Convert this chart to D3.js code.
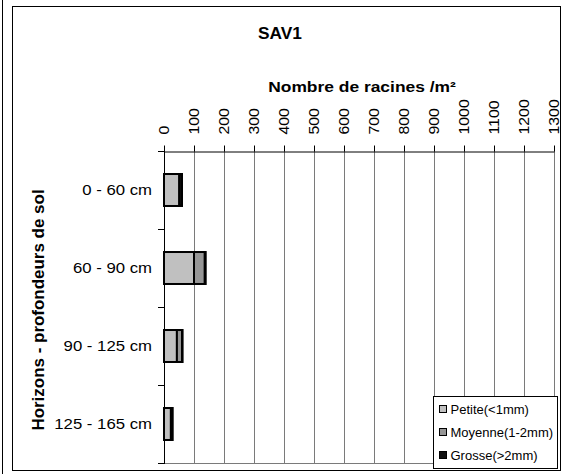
<!DOCTYPE html>
<html>
<head>
<meta charset="utf-8">
<script src="https://cdn.jsdelivr.net/npm/d3@7"></script>
<style>
  html, body { margin: 0; padding: 0; background: #fff; }
  svg { display: block; font-family: "Liberation Sans", Arial, sans-serif; }
</style>
</head>
<body>
<svg id="chart" width="563" height="474"></svg>
<script>
// Root counts per soil horizon, split by root diameter class
const horizons = ["0 - 60 cm", "60 - 90 cm", "90 - 125 cm", "125 - 165 cm"];
const petite  = [51, 100, 43, 23];
const moyenne = [0, 36, 17, 0];
const grosse  = [9, 3, 2, 6];
const seriesNames = ["Petite(<1mm)", "Moyenne(1-2mm)", "Grosse(>2mm)"];
const seriesColors = ["#c0c0c0", "#969696", "#111111"];
const xTicks = [0, 100, 200, 300, 400, 500, 600, 700, 800, 900, 1000, 1100, 1200, 1300];

const svg = d3.select("#chart");

// widen glyphs along the reading direction
function stretch(sel, factor) {
  sel.each(function () {
    const len = this.getComputedTextLength();
    d3.select(this).attr("textLength", len * factor).attr("lengthAdjust", "spacingAndGlyphs");
  });
}

// outer frames
svg.append("line").attr("x1", 2.5).attr("x2", 2.5).attr("y1", 0).attr("y2", 474)
  .attr("stroke", "#000").attr("stroke-width", 1);
svg.append("rect").attr("x", 12.5).attr("y", 6.5).attr("width", 548).attr("height", 464)
  .attr("fill", "#fff").attr("stroke", "#000").attr("stroke-width", 1);

const plot = { left: 164, right: 554, top: 151, bottom: 463 };

const x = d3.scaleLinear().domain([0, 1300]).range([plot.left, plot.right]);
const y = d3.scaleBand().domain(horizons).range([plot.top, plot.bottom])
  .paddingInner(0.59).paddingOuter(0.295);

// vertical gridlines
svg.append("g").selectAll("line").data(xTicks.slice(1)).join("line")
  .attr("x1", d => Math.round(x(d)) + 0.5).attr("x2", d => Math.round(x(d)) + 0.5)
  .attr("y1", plot.top).attr("y2", plot.bottom)
  .attr("stroke", "#7a7a7a").attr("stroke-width", 1);

// plot bottom edge
svg.append("line").attr("x1", plot.left).attr("x2", plot.right + 1)
  .attr("y1", plot.bottom + 0.5).attr("y2", plot.bottom + 0.5)
  .attr("stroke", "#7a7a7a").attr("stroke-width", 1);

// stacked bars
const stackData = horizons.map((h, i) => ({ h, Petite: petite[i], Moyenne: moyenne[i], Grosse: grosse[i] }));
const stack = d3.stack().keys(["Petite", "Moyenne", "Grosse"])(stackData);
svg.append("g").selectAll("g").data(stack).join("g")
  .attr("fill", (d, i) => seriesColors[i])
  .selectAll("rect").data(d => d.filter(s => s[1] - s[0] > 0)).join("rect")
  .attr("x", d => x(d[0]))
  .attr("width", d => x(d[1]) - x(d[0]))
  .attr("y", d => y(d.data.h))
  .attr("height", y.bandwidth())
  .attr("stroke", "#000").attr("stroke-width", 2);

// top value axis
const xAxis = d3.axisTop(x).tickValues(xTicks).tickSize(6).tickSizeOuter(0).tickFormat(d3.format("d"));
const gx = svg.append("g").attr("transform", `translate(0,${plot.top + 0.5})`).call(xAxis);
gx.select(".domain").attr("stroke", "#000");
gx.selectAll(".tick line").attr("stroke", "#000");
gx.selectAll(".tick text")
  .attr("font-size", 14).attr("fill", "#000")
  .attr("transform", "rotate(-90)")
  .attr("text-anchor", "start")
  .attr("x", 17).attr("y", 0).attr("dy", "0.35em")
  .call(stretch, 1.13);

// left category axis with ticks between categories
svg.append("line").attr("x1", plot.left + 0.5).attr("x2", plot.left + 0.5)
  .attr("y1", plot.top).attr("y2", plot.bottom + 1)
  .attr("stroke", "#000").attr("stroke-width", 1);
const step = y.step();
svg.append("g").selectAll("line").data(d3.range(horizons.length + 1)).join("line")
  .attr("x1", plot.left - 6).attr("x2", plot.left)
  .attr("y1", i => Math.round(plot.top + i * step) + 0.5)
  .attr("y2", i => Math.round(plot.top + i * step) + 0.5)
  .attr("stroke", "#000");
svg.append("g").selectAll("text").data(horizons).join("text")
  .attr("x", plot.left - 12)
  .attr("y", d => y(d) + y.bandwidth() / 2)
  .attr("dy", "0.35em")
  .attr("text-anchor", "end")
  .attr("font-size", 15.5)
  .text(d => d)
  .call(stretch, 1.08);

// titles
svg.append("text").attr("x", 280).attr("y", 39).attr("text-anchor", "middle")
  .attr("font-size", 16).attr("font-weight", "bold").text("SAV1")
  .call(stretch, 1.08);
svg.append("text").attr("x", 362).attr("y", 92).attr("text-anchor", "middle")
  .attr("font-size", 15).attr("font-weight", "bold").text("Nombre de racines /m²")
  .call(stretch, 1.16);
svg.append("text").attr("transform", "translate(44,310) rotate(-90)")
  .attr("text-anchor", "middle").attr("font-size", 16).attr("font-weight", "bold")
  .text("Horizons - profondeurs de sol")
  .call(stretch, 1.06);

// legend
const lg = svg.append("g").attr("transform", "translate(433.5,396.5)");
lg.append("rect").attr("width", 124).attr("height", 72)
  .attr("fill", "#fff").attr("stroke", "#000").attr("stroke-width", 1);
const items = lg.selectAll("g").data(seriesNames).join("g")
  .attr("transform", (d, i) => `translate(6,${13 + i * 23})`);
items.append("rect").attr("x", 0).attr("y", -4).attr("width", 7).attr("height", 7)
  .attr("fill", (d, i) => seriesColors[i]).attr("stroke", "#000").attr("stroke-width", 1);
items.append("text").attr("x", 11).attr("y", 0).attr("dy", "0.35em")
  .attr("font-size", 12.5).text(d => d)
  .call(stretch, 1.04);
</script>
</body>
</html>
